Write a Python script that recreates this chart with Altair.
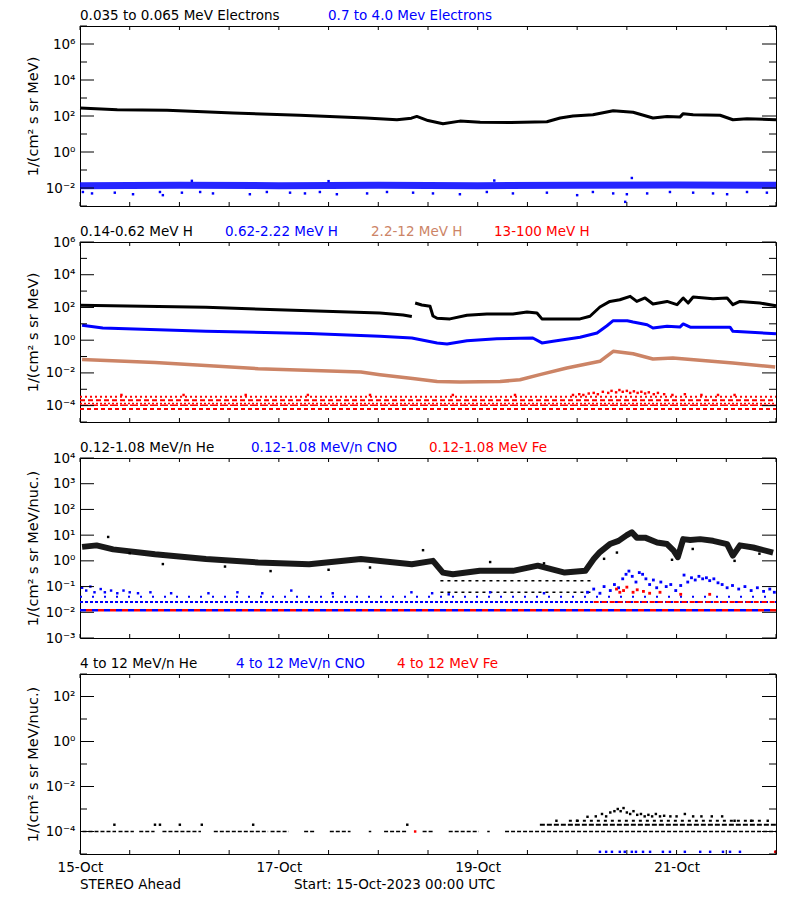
import altair as alt
import pandas as pd

W, H = 696, 180
FONT = "DejaVu Sans"
FS = 13.5
BLACK, BLUE, BROWN, RED = "#000000", "#0000ff", "#cc8466", "#ff0000"

# ---------------- data (hours since 15-Oct-2023 00:00 UTC) ----------------
# Panel 1: electrons
E_LO_T = [0, 9, 21, 37, 53, 69, 76.5, 80, 81.3, 84, 87.6, 91.7, 96.6, 104, 112.7, 115.9, 119,
          123.8, 128.7, 133.5, 138.3, 141.7, 144.8, 145.6, 148, 154.5, 157.6, 161, 168]
E_LO_V = [275, 224, 209, 148, 110, 78, 62, 76, 95, 56, 37, 52, 45, 44, 48, 78, 100,
          117, 195, 162, 78, 95, 87, 135, 117, 110, 62, 71, 62]
E_HI_T = [0, 24, 48, 72, 96, 120, 144, 168]
E_HI_V = [0.0135, 0.014, 0.0135, 0.014, 0.0135, 0.014, 0.0145, 0.014]
E_HI_PT_T = [0.7, 2.9, 8.4, 12.8, 19.3, 20, 24.6, 29, 32.1, 41, 45.1, 50.7, 54.3, 57.9, 62, 69.3,
             74.1, 80.4, 85.2, 91.7, 98.2, 104.5, 112.7, 120, 123.8, 128.7, 131.6, 132, 136.9,
             142.4, 148, 152.8, 156.2, 161, 165.8, 133.2, 27, 60, 100]
E_HI_PT_V = [0.006, 0.005, 0.0055, 0.0045, 0.006, 0.004, 0.0055, 0.006, 0.005, 0.0045, 0.006,
             0.0055, 0.005, 0.006, 0.0045, 0.005, 0.006, 0.0055, 0.005, 0.0045, 0.006, 0.005,
             0.0055, 0.004, 0.006, 0.005, 0.0017, 0.0045, 0.005, 0.006, 0.0055, 0.005, 0.0045,
             0.006, 0.0055, 0.036, 0.025, 0.024, 0.026]

# Panel 2: protons
H1_T = [0, 30.4, 55.3, 72.4, 78, 80.1,
        80.9, 82.5, 84.5, 85.2, 86.2, 89.3, 93.4, 98.2, 104.5, 107.9, 110.3, 111.5, 114.2, 120.7,
        123.1, 125.5, 127.9, 130.3, 132.8, 134.4, 136.4, 138.3, 141.7, 144.1, 145.6, 146.8, 148,
        152.8, 156.2, 157.6, 159.3, 164.1, 168]
H1_V = [135, 102, 63, 46, 35, 28,
        186, 141, 117, 30, 22, 20, 33, 40, 40, 52, 46, 20, 19.5, 20,
        29, 107, 234, 295, 479, 234, 380, 162, 234, 148, 380, 186, 437,
        339, 380, 148, 234, 186, 129]
H1_SEG = [0] * 6 + [1] * 33
H2_T = [0.5, 5.5, 30.4, 55.3, 72.4, 80.1, 86.2, 88.6, 93.4, 100.6, 109.3, 111.5, 114.2, 120.7,
        124.8, 127.2, 128.7, 132.1, 133.5, 136.9, 138.3, 141.7, 144.8, 145.6, 147.3, 156.9,
        157.6, 168]
H2_V = [8.1, 5.5, 3.5, 2.6, 1.74, 1.35, 0.68, 0.59, 0.93, 1.23, 1.35, 0.68, 0.85, 1.51,
        2.75, 7.6, 15.5, 15.5, 12.9, 8.7, 5.5, 7.1, 6.3, 9.8, 6.2, 6.2, 3.5, 2.5]
H3_T = [0.5, 18.1, 43, 67.8, 72.4, 80.3, 86.2, 91.7, 101.4, 106.2, 111, 117.5, 125.5, 128.7,
        133.5, 138.3, 143.1, 149.6, 157.6, 167.8]
H3_V = [0.065, 0.044, 0.018, 0.0112, 0.0078, 0.0045, 0.003, 0.00275, 0.003, 0.0038, 0.0078,
        0.02, 0.051, 0.21, 0.148, 0.071, 0.081, 0.059, 0.04, 0.023]
H4_LEV_V = [3.5e-4, 2.1e-4, 1.35e-4, 1.05e-4, 6.3e-5]
H4_PT_T = [119, 120.5, 121.5, 122.8, 124, 125, 126.2, 127.5, 128.3, 129.4, 130.2, 131, 132,
           132.8, 133.7, 134.6, 135.5, 136.4, 137.3, 138.5, 139.5, 141, 143, 146, 150, 154, 158,
           10, 25, 40, 55, 70, 90, 105]
H4_PT_V = [4.5e-4, 5e-4, 4.5e-4, 5.5e-4, 6e-4, 5e-4, 7e-4, 6e-4, 8e-4, 6.5e-4, 9e-4, 7e-4,
           8e-4, 6e-4, 7.5e-4, 6e-4, 7e-4, 5.5e-4, 6.5e-4, 5e-4, 6e-4, 5e-4, 4.5e-4, 5e-4,
           4.5e-4, 4.5e-4, 4.5e-4, 4.5e-4, 4.5e-4, 4.5e-4, 4.5e-4, 4.5e-4, 4.5e-4, 4.5e-4]

# Panel 3: 0.12-1.08 MeV/n ions
HE_T = [0.5, 4, 8, 18.1, 30.4, 43, 55.3, 67.8, 80.1, 85.2, 87.6, 90, 96.5, 104.5, 110.5, 117,
        122, 124, 125.5, 127.9, 130, 132, 133.2, 134.4, 136.4, 139.3, 141.7, 143.3, 144.3,
        145.6, 147.3, 149.7, 152.8, 156.2, 157.6, 159.3, 162.5, 167.3]
HE_V = [3.5, 4.0, 2.8, 1.8, 1.17, 0.87, 0.74, 1.17, 0.74, 1.0, 0.35, 0.3, 0.41, 0.41, 0.65,
        0.35, 0.41, 1.17, 2.2, 4.5, 6.0, 10, 13, 8, 8, 5.2, 4.5, 2.5, 1.4, 7, 6.5, 7, 6, 4.5,
        1.6, 4, 3.3, 2.1]
HE_PT_T = [6.8, 12, 20, 35, 46, 60, 70, 82.8, 99, 112, 126.5, 129.6, 142.9, 147.9, 158, 164]
HE_PT_V = [8.5, 2.0, 0.75, 0.6, 0.4, 0.45, 0.55, 2.6, 0.9, 0.8, 1.2, 2.1, 1.1, 2.9, 1.0, 1.9]
HE_LEV_V = [0.17, 0.06]
HE_LEV_T0 = [87, 87]
HE_LEV_T1 = [124, 124]
CNO_LEV_V = [0.04, 0.025, 0.012]
CNO_PT_T = [0.5, 1.5, 2.5, 3.5, 5, 6, 7.5, 9, 10.5, 12, 14, 17, 22, 31, 38, 44, 51, 61, 80,
            85, 89, 99, 112]
CNO_PT_V = [0.09, 0.07, 0.1, 0.06, 0.08, 0.06, 0.07, 0.055, 0.07, 0.06, 0.055, 0.06, 0.055,
            0.055, 0.06, 0.055, 0.07, 0.055, 0.06, 0.055, 0.05, 0.06, 0.055]
CNO_EV_T = [122.5, 124, 125.5, 126.5, 128, 129, 130, 131, 131.8, 132.5, 133.3, 134.2, 135,
            135.8, 136.6, 137.5, 138.4, 139.2, 140.2, 141.5, 142.6, 143.8, 145, 145.8, 146.7,
            147.6, 148.5, 149.4, 150.3, 151.2, 152, 153, 154, 155, 156.2, 157.5, 159, 160.5,
            162, 163.5, 165, 166.5, 167.6]
CNO_EV_V = [0.06, 0.08, 0.055, 0.1, 0.07, 0.12, 0.09, 0.2, 0.3, 0.4, 0.25, 0.15, 0.35, 0.3,
            0.2, 0.12, 0.18, 0.09, 0.15, 0.1, 0.12, 0.07, 0.11, 0.28, 0.15, 0.22, 0.18, 0.25,
            0.2, 0.22, 0.17, 0.2, 0.14, 0.12, 0.09, 0.11, 0.08, 0.1, 0.07, 0.09, 0.065, 0.08,
            0.06]
FE_LEV_V = [0.012, 0.025]
FE_LEV_T0 = [0, 124]
FE_EV_T = [129.5, 130.3, 131.2, 132, 133.5, 134.5, 136, 137.5, 140, 145, 152]
FE_EV_V = [0.08, 0.06, 0.07, 0.095, 0.06, 0.075, 0.065, 0.055, 0.06, 0.05, 0.05]

# Panel 4: 4-12 MeV/n ions
HE4_SEG_T0 = [0.6, 9.3, 14.3, 19.9, 32.3, 46, 54.1, 60.3, 69.7, 73.4, 82.7, 89, 98.3, 102.6]
HE4_SEG_T1 = [8.7, 13, 18, 29.2, 45.4, 50.4, 56.6, 65.3, 70.3, 79, 85.2, 96.3, 98.9, 168]
HE4_BASE = 1e-4
HE4_LEV_V = [2e-4, 3e-4]
HE4_LEV_T0 = [111, 118]
HE4_LEV_T1 = [168, 165]
HE4_PT_T = [8.3, 18.1, 19.3, 24.1, 29.4, 41.8, 79,
            115, 120, 122.5, 124.5, 126, 127, 128, 129, 129.8, 130.5, 131.2, 132, 132.8, 133.6,
            134.5, 135.4, 136.3, 137.2, 138.1, 139, 140, 141, 142.5, 144, 146, 148, 150, 152.5,
            155, 158, 162, 166]
HE4_PT_V = [2e-4, 2e-4, 2e-4, 2e-4, 2e-4, 2e-4, 2e-4,
            3e-4, 3e-4, 4.5e-4, 4.7e-4, 6e-4, 4.7e-4, 7e-4, 8e-4, 1.0e-3, 8e-4, 1.1e-3, 7e-4,
            6e-4, 8e-4, 5.5e-4, 6e-4, 4.7e-4, 5.5e-4, 4.7e-4, 6e-4, 4.7e-4, 5e-4, 4.7e-4,
            4.7e-4, 6e-4, 4.7e-4, 4.7e-4, 4.7e-4, 4.7e-4, 3e-4, 3e-4, 3e-4]
CNO4_PT_T = [125.5, 127, 128.4, 130.3, 131.5, 133.2, 134.2, 135.9, 137.6, 140.7, 142.4, 146,
             149.7, 152.1, 155.2, 156.9, 159.3]
CNO4_PT_V = [1.25e-5] * 17
FE4_PT_T = [80.9, 167.8]
FE4_PT_V = [1e-4, 1.25e-5]

X_TICK_HOURS = list(range(0, 169, 12))
X_LABEL_HOURS = [0, 48, 96, 144]

TITLES = [
    [("0.035 to 0.065 MeV Electrons", BLACK, 0), ("0.7 to 4.0 Mev Electrons", BLUE, 248)],
    [("0.14-0.62 MeV H", BLACK, 0), ("0.62-2.22 MeV H", BLUE, 145),
     ("2.2-12 MeV H", BROWN, 291), ("13-100 MeV H", RED, 414)],
    [("0.12-1.08 MeV/n He", BLACK, 0), ("0.12-1.08 MeV/n CNO", BLUE, 171),
     ("0.12-1.08 MeV Fe", RED, 349)],
    [("4 to 12 MeV/n He", BLACK, 0), ("4 to 12 MeV/n CNO", BLUE, 156),
     ("4 to 12 MeV Fe", RED, 317)],
]
YTITLE_E = "1/(cm² s sr MeV)"
YTITLE_N = "1/(cm² s sr MeV/nuc.)"
FOOTER = [("STEREO Ahead", 0), ("Start: 15-Oct-2023 00:00 UTC", 214)]

SUP = "⁰¹²³⁴⁵⁶⁷⁸⁹"
EXP = "round(log(datum.value)/LN10)"
LABEL_EXPR = f"'10' + ({EXP} < 0 ? '⁻' : '') + substring('{SUP}', abs({EXP}), abs({EXP}) + 1)"


def make_panel(lo, hi, lab, ytitle, titles, build, bottom=False):
    yax = alt.Axis(values=[10.0 ** e for e in lab], labelExpr=LABEL_EXPR, ticks=False,
                   domain=False, grid=False, labelPadding=5, labelFont=FONT, labelFontSize=FS,
                   labelColor="black", title=ytitle, titleFont=FONT, titleFontSize=14.5,
                   titleFontWeight="normal", titleColor="black", titleX=-47, titleY=H / 2,
                   titleAngle=270, titleAlign="center", titleBaseline="middle")
    Y = alt.Y("v:Q", scale=alt.Scale(type="log", domain=[10.0 ** lo, 10.0 ** hi], nice=False),
              axis=yax)
    if bottom:
        xax = alt.Axis(values=X_LABEL_HOURS, labelExpr="(15 + datum.value/24) + '-Oct'",
                       ticks=False, domain=False, grid=False, labelPadding=6, labelFont=FONT,
                       labelFontSize=FS, labelColor="black", labelFlush=False, title=None)
    else:
        xax = None
    X = alt.X("t:Q", scale=alt.Scale(domain=[0, 168], nice=False, zero=False), axis=xax)

    def line(t, v, color, width, seg=None, opacity=1.0):
        df = pd.DataFrame({"t": t, "v": v, "seg": seg if seg else [0] * len(t)})
        return alt.Chart(df).mark_line(color=color, strokeWidth=width, opacity=opacity,
                                       strokeJoin="round").encode(x=X, y=Y, detail="seg:N")

    def pts(t, v, color, size=6):
        df = pd.DataFrame({"t": t, "v": v})
        return alt.Chart(df).mark_square(color=color, size=size, opacity=1).encode(x=X, y=Y)

    def lev(t0, t1, v, color, width, dash, offset=0):
        df = pd.DataFrame({"t": t0, "t1": t1, "v": v})
        return alt.Chart(df).mark_rule(color=color, strokeWidth=width, strokeDash=dash,
                                       strokeDashOffset=offset).encode(x=X, x2="t1", y=Y)

    layers = build(line, pts, lev)

    # inward ticks (IDL style)
    major = [e for e in range(lo, hi + 1) if e in lab]
    minor = [e for e in range(lo, hi + 1) if e not in lab]
    dmaj = pd.DataFrame({"v": [10.0 ** e for e in major]})
    layers.append(alt.Chart(dmaj).mark_rule(color="black").encode(
        y=Y, x=alt.value(0), x2=alt.value(14)))
    layers.append(alt.Chart(dmaj).mark_rule(color="black").encode(
        y=Y, x=alt.value(W), x2=alt.value(W - 14)))
    if minor:
        dmin = pd.DataFrame({"v": [10.0 ** e for e in minor]})
        layers.append(alt.Chart(dmin).mark_rule(color="black").encode(
            y=Y, x=alt.value(0), x2=alt.value(7)))
        layers.append(alt.Chart(dmin).mark_rule(color="black").encode(
            y=Y, x=alt.value(W), x2=alt.value(W - 7)))
    dx = pd.DataFrame({"t": X_TICK_HOURS})
    layers.append(alt.Chart(dx).mark_rule(color="black").encode(
        x=X, y=alt.value(H), y2=alt.value(H - 4)))
    layers.append(alt.Chart(dx).mark_rule(color="black").encode(
        x=X, y=alt.value(0), y2=alt.value(4)))

    for text, color, px in titles:
        layers.append(alt.Chart(pd.DataFrame({"label": [text]})).mark_text(
            align="left", baseline="middle", font=FONT, fontSize=FS, color=color
        ).encode(x=alt.value(px), y=alt.value(-10), text="label:N"))
    if bottom:
        for text, px in FOOTER:
            layers.append(alt.Chart(pd.DataFrame({"label": [text]})).mark_text(
                align="left", baseline="middle", font=FONT, fontSize=FS, color="black"
            ).encode(x=alt.value(px), y=alt.value(H + 31), text="label:N"))
    return alt.layer(*layers).properties(width=W, height=H)


def build1(line, pts, lev):
    return [
        line(E_HI_T, E_HI_V, BLUE, 7, opacity=0.85),
        pts(E_HI_PT_T, E_HI_PT_V, BLUE),
        line(E_LO_T, E_LO_V, BLACK, 3),
    ]


def build2(line, pts, lev):
    n = len(H4_LEV_V)
    dashes = [[2, 3], [5, 3], [2, 2], [8, 2], [4, 3]]
    widths = [2, 2, 1.5, 1.5, 2]
    out = []
    for i in range(n):
        out.append(lev([0], [168], [H4_LEV_V[i]], RED, widths[i], dashes[i]))
    out.append(pts(H4_PT_T, H4_PT_V, RED))
    out += [
        line(H3_T, H3_V, BROWN, 3.5),
        line(H2_T, H2_V, BLUE, 3),
        line(H1_T, H1_V, BLACK, 3, seg=H1_SEG),
    ]
    return out


def build3(line, pts, lev):
    return [
        lev([0], [168], [CNO_LEV_V[0]], BLUE, 2, [2, 10]),
        lev([0], [168], [CNO_LEV_V[1]], BLUE, 2, [3, 2]),
        lev([0], [168], [CNO_LEV_V[2]], BLUE, 2.5, [6, 6]),
        lev([FE_LEV_T0[0]], [168], [FE_LEV_V[0]], RED, 2.5, [6, 6], 6),
        lev([FE_LEV_T0[1]], [168], [FE_LEV_V[1]], RED, 2, [5, 3]),
        lev(HE_LEV_T0, HE_LEV_T1, HE_LEV_V, BLACK, 1.5, [3, 4]),
        pts(CNO_PT_T, CNO_PT_V, BLUE),
        pts(CNO_EV_T, CNO_EV_V, BLUE, 8),
        pts(FE_EV_T, FE_EV_V, RED, 8),
        line(HE_T, HE_V, BLACK, 6, opacity=0.9),
        pts(HE_PT_T, HE_PT_V, BLACK),
    ]


def build4(line, pts, lev):
    return [
        lev(HE4_SEG_T0, HE4_SEG_T1, [HE4_BASE] * len(HE4_SEG_T0), BLACK, 1.5, [4, 2]),
        lev([HE4_LEV_T0[0]], [HE4_LEV_T1[0]], [HE4_LEV_V[0]], BLACK, 2, [5, 2]),
        lev([HE4_LEV_T0[1]], [HE4_LEV_T1[1]], [HE4_LEV_V[1]], BLACK, 2, [3, 4]),
        pts(HE4_PT_T, HE4_PT_V, BLACK),
        pts(CNO4_PT_T, CNO4_PT_V, BLUE),
        pts(FE4_PT_T, FE4_PT_V, RED),
    ]


p1 = make_panel(-3, 7, [-2, 0, 2, 4, 6], YTITLE_E, TITLES[0], build1)
p2 = make_panel(-5, 6, [-4, -2, 0, 2, 4, 6], YTITLE_E, TITLES[1], build2)
p3 = make_panel(-3, 4, [-3, -2, -1, 0, 1, 2, 3, 4], YTITLE_N, TITLES[2], build3)
p4 = make_panel(-5, 3, [-4, -2, 0, 2], YTITLE_N, TITLES[3], build4, bottom=True)

chart = alt.vconcat(p1, p2, p3, p4, spacing=36, bounds="flush").properties(
    padding={"top": 0, "left": 16, "right": 5, "bottom": 5},
    background="white",
).configure_view(stroke="black", strokeWidth=1)

chart.save("out.html", embed_options={"renderer": "svg", "actions": False})
